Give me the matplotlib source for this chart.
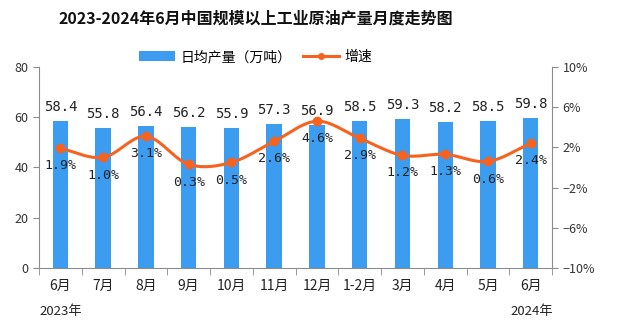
import numpy as np
import matplotlib
matplotlib.use("Agg")
import matplotlib.pyplot as plt
from matplotlib.ticker import FixedLocator
from matplotlib.lines import Line2D

plt.rcParams['font.family'] = ['Noto Sans CJK SC', 'DejaVu Sans']

months = ["6月", "7月", "8月", "9月", "10月", "11月", "12月", "1-2月", "3月", "4月", "5月", "6月"]
output = [58.4, 55.8, 56.4, 56.2, 55.9, 57.3, 56.9, 58.5, 59.3, 58.2, 58.5, 59.8]
growth = [1.9, 1.0, 3.1, 0.3, 0.5, 2.6, 4.6, 2.9, 1.2, 1.3, 0.6, 2.4]
left_ticks = [0, 20, 40, 60, 80]
right_ticks = [-10, -6, -2, 2, 6, 10]

bar_color = "#3b9cf0"
line_color = "#f7621f"
axis_color = "#8c8c8c"

fig = plt.figure(figsize=(6.19, 3.22), dpi=100)
ax = fig.add_axes([0.063, 0.168, 0.829, 0.624])
ax2 = ax.twinx()

x = np.arange(len(months))
ax.bar(x, output, width=0.36, color=bar_color, zorder=2, label="日均产量（万吨）")
ax.set_xlim(-0.5, len(months) - 0.5)
ax.set_ylim(0, 80)
ax.set_yticks(left_ticks)

# Catmull-Rom smoothing for display
def smooth(xs, ys, n=20):
    xs = np.asarray(xs, float); ys = np.asarray(ys, float)
    px = np.concatenate([[2*xs[0]-xs[1]], xs, [2*xs[-1]-xs[-2]]])
    py = np.concatenate([[2*ys[0]-ys[1]], ys, [2*ys[-1]-ys[-2]]])
    ox, oy = [], []
    for i in range(1, len(px) - 2):
        t = np.linspace(0, 1, n, endpoint=False)
        for arr, out in ((px, ox), (py, oy)):
            p0, p1, p2, p3 = arr[i-1], arr[i], arr[i+1], arr[i+2]
            out.extend(0.5 * ((2*p1) + (-p0 + p2)*t + (2*p0 - 5*p1 + 4*p2 - p3)*t**2 + (-p0 + 3*p1 - 3*p2 + p3)*t**3))
    ox.append(xs[-1]); oy.append(ys[-1])
    return np.array(ox), np.array(oy)

sx, sy = smooth(x, growth)
ax2.plot(sx, sy, color=line_color, lw=2.2, zorder=3)
ax2.plot(x, growth, 'o', color=line_color, ms=6, zorder=4)
ax2.set_ylim(-10, 10)
ax2.set_yticks(right_ticks)
ax2.set_yticklabels([f"{t}%".replace("-", "\u2212") for t in right_ticks])

# labels
for xi, v in zip(x, output):
    ax.annotate(f"{v:.1f}", (xi, v), xytext=(0, 5), textcoords="offset points",
                ha="center", va="bottom", fontsize=10, color="#222222", family=["DejaVu Sans Mono"])
for xi, g in zip(x, growth):
    ax2.annotate(f"{g:.1f}%", (xi, g), xytext=(0, -8), textcoords="offset points",
                 ha="center", va="top", fontsize=9.5, color="#222222", family=["DejaVu Sans Mono"], zorder=5)

# spines and ticks
for a in (ax, ax2):
    a.spines['top'].set_visible(False)
    for s in ('left', 'right', 'bottom'):
        a.spines[s].set_color(axis_color)
    a.tick_params(colors=axis_color, labelcolor="#333333", labelsize=9, length=4)
ax.spines['right'].set_visible(False)
ax2.spines['left'].set_visible(False)
ax2.spines['bottom'].set_visible(False)

ax.set_xticks(x)
ax.set_xticklabels(months, fontsize=10, color="#222222")
ax.tick_params(axis='x', length=0, pad=8)
ax.xaxis.set_minor_locator(FixedLocator(np.arange(-0.5, len(months), 1.0)))
ax.tick_params(axis='x', which='minor', length=5, color=axis_color)

fig.text(0.064, 0.032, "2023年", fontsize=9.5, color="#222222", ha="left", va="center")
fig.text(0.893, 0.032, "2024年", fontsize=9.5, color="#222222", ha="right", va="center")

fig.suptitle("2023-2024年6月中国规模以上工业原油产量月度走势图", x=0.413, y=0.968,
             fontsize=11.5, fontweight="bold", color="#111111")

h1, l1 = ax.get_legend_handles_labels()
h2 = [Line2D([0], [0], color=line_color, lw=2.2, marker='o', ms=4)]
fig.legend(h1 + h2, l1 + ["增速"], loc="center", bbox_to_anchor=(0.413, 0.823), ncol=2,
           frameon=False, fontsize=10, handlelength=2.6, handleheight=0.8, columnspacing=0.8,
           handletextpad=0.4)

fig.savefig("out.png", dpi=100)
